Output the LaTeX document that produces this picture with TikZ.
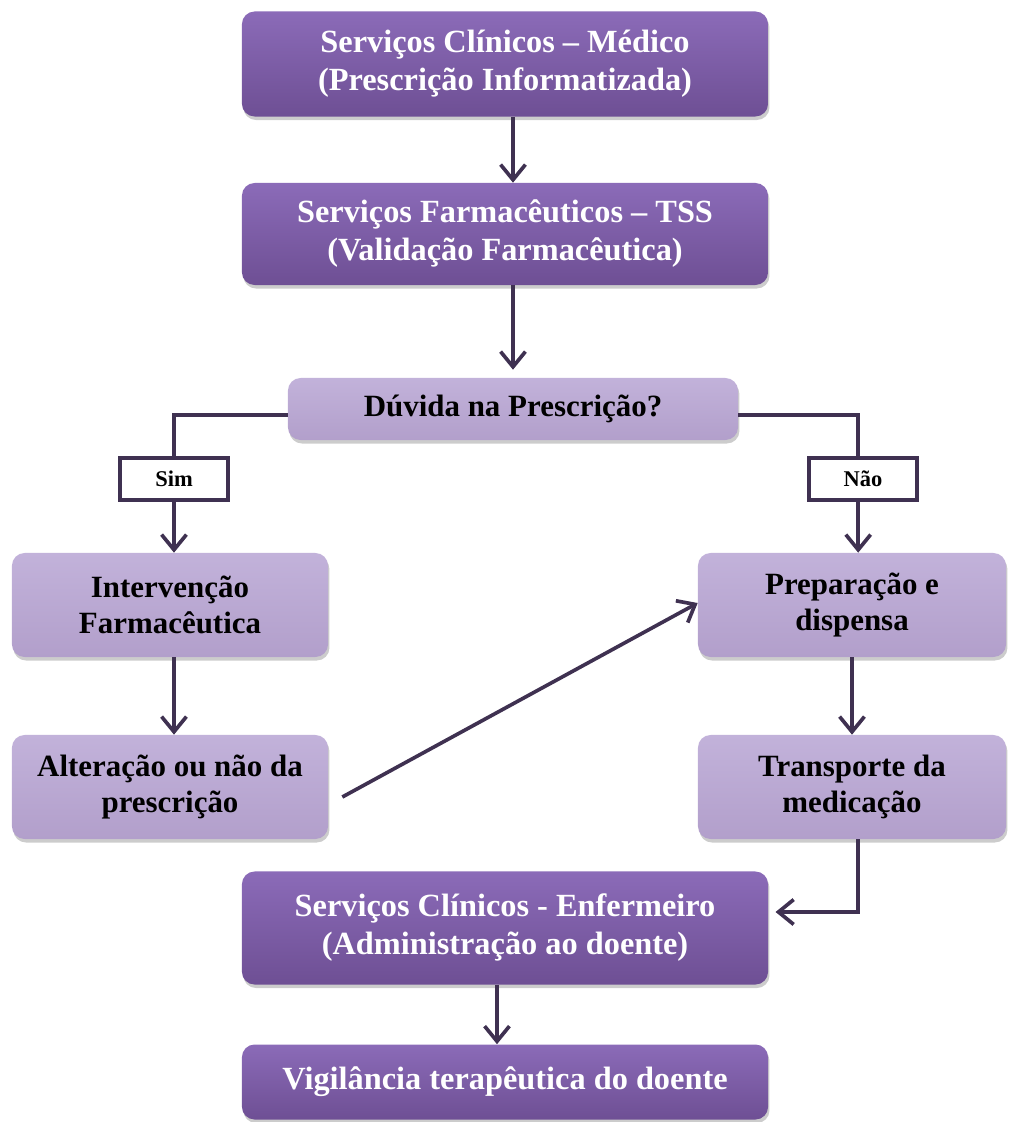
\documentclass[tikz,border=0pt]{standalone}
\usepackage{fontspec}
\setmainfont{Liberation Serif}
\usetikzlibrary{arrows.meta,shadows}
\definecolor{violtop}{HTML}{8B6BB8}
\definecolor{violbot}{HTML}{6E4F94}
\definecolor{liltop}{HTML}{C2B2DA}
\definecolor{lilbot}{HTML}{B29FCB}
\definecolor{linecol}{HTML}{3F3151}
\tikzstyle{darkblock} = [rectangle, rounded corners=9pt, top color=violtop,
                 bottom color=violbot, text=white, align=center,
                 font=\bfseries\fontsize{23}{27}\selectfont,
                 minimum width=13.15cm,
                 drop shadow={shadow xshift=1pt, shadow yshift=-2.5pt, opacity=0.4}]
\tikzstyle{lightblock} = [rectangle, rounded corners=9pt, top color=liltop,
                 bottom color=lilbot, text=black, align=center,
                 font=\bfseries\fontsize{22}{26}\selectfont,
                 drop shadow={shadow xshift=1pt, shadow yshift=-2.5pt, opacity=0.4}]
\tikzstyle{answer} = [rectangle, draw=linecol, line width=2.6pt, fill=white,
                 font=\bfseries\fontsize{16}{18}\selectfont,
                 minimum width=2.7cm, minimum height=1.05cm]
\tikzstyle{arrow} = [draw=linecol, line width=2.6pt,
                 -{Straight Barb[length=0.38cm,width=0.62cm]}]
\tikzstyle{line} = [draw=linecol, line width=2.6pt]

\begin{document}
\begin{tikzpicture}[x=0.025cm, y=-0.025cm]

\useasboundingbox (0,0) rectangle (1008,1122);

% main column
\node [darkblock, minimum height=2.625cm] at (505,64) (med)
    {Serviços Clínicos – Médico\\(Prescrição Informatizada)};
\node [darkblock, minimum height=2.55cm] at (505,234) (farm)
    {Serviços Farmacêuticos – TSS\\(Validação Farmacêutica)};
\node [lightblock, minimum width=11.25cm, minimum height=1.55cm] at (513,409) (duv)
    {Dúvida na Prescrição?};

% answers
\node [answer] at (174,479) (sim) {Sim};
\node [answer] at (863,479) (nao) {Não};

% side boxes
\node [lightblock, minimum width=7.9cm, minimum height=2.6cm] at (170,605) (interv)
    {Intervenção\\Farmacêutica};
\node [lightblock, minimum width=7.9cm, minimum height=2.6cm] at (170,787) (alter)
    {Alteração ou não da\\prescrição};
\node [lightblock, minimum width=7.7cm, minimum height=2.6cm] at (852,605) (prep)
    {Preparação e\\dispensa};
\node [lightblock, minimum width=7.7cm, minimum height=2.6cm] at (852,787) (transp)
    {Transporte da\\medicação};

\node [darkblock, minimum height=2.825cm] at (505,928) (enf)
    {Serviços Clínicos - Enfermeiro\\(Administração ao doente)};
\node [darkblock, minimum height=1.875cm] at (505,1082) (vig)
    {Vigilância terapêutica do doente};

% connectors
\draw [arrow] (med.south -| duv) -- (farm.north -| duv);
\draw [arrow] (farm.south -| duv) -- ([yshift=0.2cm]duv.north);
\draw [line] ([yshift=-0.15cm]duv.west) -| (sim.north);
\draw [line] ([yshift=-0.15cm]duv.east) -| ([xshift=-0.12cm]nao.north);
\draw [arrow] (sim.south) -- (interv.north -| sim);
\draw [arrow] ([xshift=-0.12cm]nao.south) -- ([xshift=-0.12cm]prep.north -| nao);
\draw [arrow] (interv.south -| sim) -- (alter.north -| sim);
\draw [arrow] (prep) -- (transp);
\draw [arrow] ([xshift=0.35cm,yshift=-0.25cm]alter.east) -- ([yshift=0.05cm]prep.west);
\draw [arrow] ([xshift=0.15cm]transp.south) |- ([xshift=0.18cm,yshift=0.4cm]enf.east);
\draw [arrow] ([xshift=-0.2cm]enf.south) -- ([xshift=-0.2cm]vig.north);

\end{tikzpicture}
\end{document}
